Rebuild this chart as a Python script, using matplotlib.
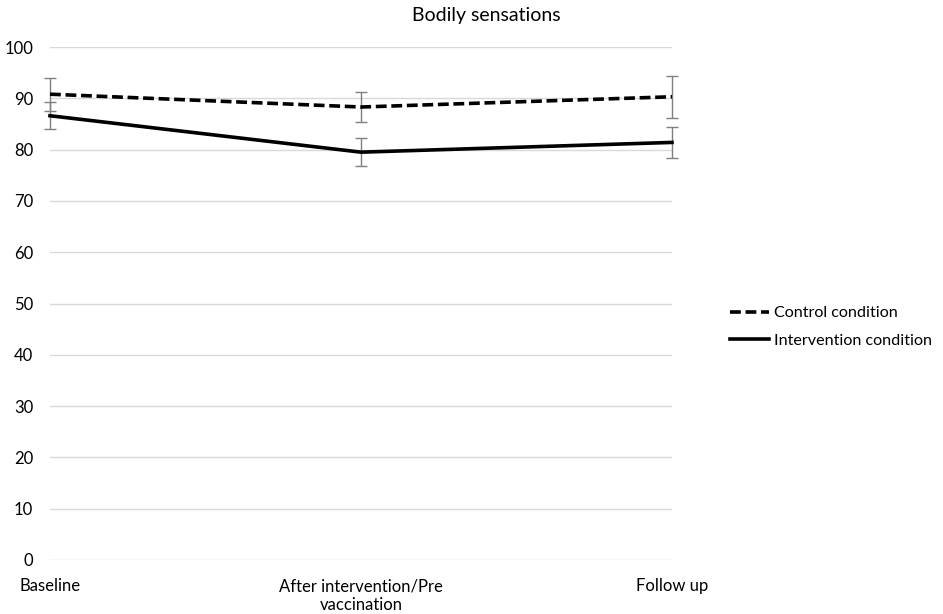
import numpy as np
import matplotlib
matplotlib.use("Agg")
import matplotlib.pyplot as plt

plt.rcParams['font.family'] = ['Lato', 'DejaVu Sans']

categories = ["Baseline", "After intervention/Pre\nvaccination", "Follow up"]
control = [90.8, 88.3, 90.3]
control_err = [3.2, 2.9, 4.1]
intervention = [86.6, 79.5, 81.4]
intervention_err = [2.6, 2.7, 3.0]

W, H = 943, 614
fig = plt.figure(figsize=(W / 100, H / 100), dpi=100)
ax = fig.add_axes([50 / W, (H - 560) / H, 622 / W, 513 / H])

x = np.arange(len(categories))

# error bars first, lines on top
for vals, errs in [(control, control_err), (intervention, intervention_err)]:
    eb = ax.errorbar(x, vals, yerr=errs, fmt='none', ecolor='#7f7f7f',
                     elinewidth=1.0, capsize=4, capthick=1.0, zorder=3)
    for art in eb.get_children():
        art.set_clip_on(False)

l1, = ax.plot(x, control, color='black', lw=2.6, ls=(0, (3, 1.3)),
              label='Control condition', zorder=4, clip_on=False)
l2, = ax.plot(x, intervention, color='black', lw=2.6,
              label='Intervention condition', zorder=4, clip_on=False)

ax.set_xlim(0, 2)
ax.set_ylim(0, 100)
ax.set_yticks(range(0, 101, 10))
ax.set_xticks(x)
ax.set_xticklabels(categories)
ax.grid(axis='y', color='#d9d9d9', lw=1)
ax.set_axisbelow(True)
for s in ax.spines.values():
    s.set_visible(False)
ax.tick_params(axis='both', length=0, labelsize=12, colors='black')
ax.tick_params(axis='y', pad=12)
ax.tick_params(axis='x', pad=13)

fig.text(486 / W, 1 - 15 / H, "Bodily sensations", ha='center', va='center',
         fontsize=14)

fig.legend(handles=[l1, l2], loc='center left',
           bbox_to_anchor=(730 / W, 1 - 327 / H), frameon=False,
           fontsize=11.6, handlelength=2.4, handletextpad=0.3,
           labelspacing=0.85, borderaxespad=0, borderpad=0)

fig.savefig("out.png", dpi=100)
